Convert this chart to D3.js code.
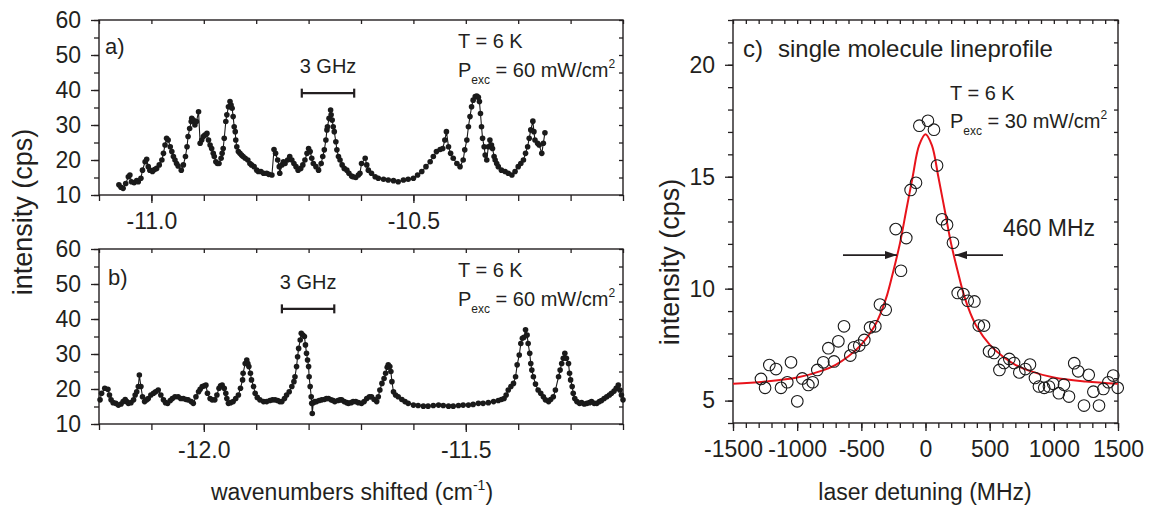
<!DOCTYPE html>
<html><head><meta charset="utf-8">
<script src="https://cdn.jsdelivr.net/npm/d3@7"></script>
<style>
html,body{margin:0;padding:0;background:#fff;}
svg text{font-family:"Liberation Sans",Arial,Helvetica,sans-serif;fill:#231f20;}
</style></head>
<body><svg id="chart" width="1153" height="508"></svg>
<script>
// ---------- DATA ----------
// a) spectrum
const aX = [-11.062,-11.058,-11.054,-11.049,-11.044,-11.041,-11.038,-11.033,-11.028,-11.025,
-11.020,-11.017,-11.012,-11.009,-11.006,-11.003,-10.998,-10.994,-10.990,-10.985,
-10.980,-10.977,-10.974,-10.971,-10.968,-10.964,-10.961,-10.958,-10.955,-10.952,
-10.949,-10.943,-10.939,-10.935,-10.932,-10.930,-10.927,-10.924,-10.923,-10.920,
-10.917,-10.914,-10.910,-10.907,-10.904,-10.901,-10.898,-10.894,-10.891,-10.888,
-10.885,-10.882,-10.880,-10.877,-10.874,-10.871,-10.867,-10.865,-10.863,-10.861,
-10.858,-10.856,-10.853,-10.850,-10.848,-10.846,-10.844,-10.842,-10.840,-10.839,
-10.837,-10.834,-10.831,-10.828,-10.825,-10.821,-10.816,-10.812,-10.809,-10.804,
-10.799,-10.796,-10.791,-10.786,-10.780,-10.776,-10.770,-10.766,-10.763,-10.759,
-10.756,-10.755,-10.751,-10.748,-10.745,-10.740,-10.736,-10.732,-10.728,-10.724,
-10.720,-10.715,-10.711,-10.707,-10.703,-10.700,-10.697,-10.694,-10.691,-10.686,
-10.681,-10.676,-10.673,-10.670,-10.667,-10.665,-10.664,-10.661,-10.658,-10.657,
-10.655,-10.653,-10.651,-10.648,-10.646,-10.643,-10.640,-10.636,-10.632,-10.627,
-10.623,-10.618,-10.615,-10.610,-10.605,-10.602,
-10.599,-10.592,-10.589,-10.586,-10.580,-10.573,-10.567,-10.557,-10.548,-10.538,
-10.529,-10.519,-10.510,-10.500,-10.492,-10.484,-10.476,-10.468,-10.462,-10.456,
-10.449,-10.444,-10.440,-10.437,-10.433,-10.429,-10.424,-10.417,-10.411,-10.405,
-10.402,-10.398,-10.395,-10.392,-10.389,-10.386,-10.382,-10.379,-10.376,-10.374,
-10.372,-10.370,-10.368,-10.365,-10.363,-10.360,-10.357,-10.354,-10.351,-10.349,
-10.346,-10.344,-10.341,-10.338,-10.332,-10.325,-10.319,-10.312,-10.306,-10.300,
-10.295,-10.290,-10.286,-10.282,-10.279,-10.276,-10.272,-10.270,-10.268,-10.263,
-10.260,-10.255,-10.252,-10.249];
const aY = [12.9,12.2,11.9,13.3,15.2,15.7,13.8,13.5,14.1,13.8,
14.8,17.1,19.5,20.2,18.1,17.1,16.7,17.3,17.6,18.6,
20.0,21.9,24.3,26.2,25.7,23.8,22.4,21.0,20.0,19.0,
18.3,17.1,18.6,21.0,23.8,26.7,29.0,31.0,31.9,31.4,
30.0,31.0,33.8,24.8,25.7,26.7,27.1,27.6,25.7,24.3,
23.3,21.9,21.0,19.5,19.0,19.0,20.5,21.9,23.3,26.2,
31.0,32.9,35.2,36.7,35.7,34.8,32.4,29.5,28.1,25.7,
23.8,22.4,21.9,21.4,21.0,20.5,20.0,19.0,18.6,18.1,
17.1,16.7,16.7,16.2,16.2,15.9,15.7,23.0,21.9,20.0,
18.1,16.2,18.6,19.5,19.0,20.0,21.0,20.0,19.0,18.1,
17.1,17.6,18.6,20.0,21.9,23.3,22.4,20.5,19.0,18.1,
17.1,19.0,21.0,22.9,25.7,28.6,29.5,31.9,34.3,32.9,
31.4,29.5,28.1,25.2,22.9,21.0,20.0,18.6,17.6,17.1,
16.2,15.4,15.2,15.0,15.7,16.2,
19.0,20.5,18.6,17.1,16.2,15.2,14.8,14.5,14.3,14.1,
13.8,14.3,14.5,14.8,15.7,16.7,18.1,19.5,21.0,22.4,
23.0,23.3,25.7,28.1,23.8,21.9,20.5,19.0,18.1,20.0,
22.9,25.7,29.5,32.4,35.2,37.1,38.1,38.3,37.9,36.7,
33.3,29.5,26.2,23.8,21.4,20.0,23.8,25.7,24.3,23.3,
21.0,20.0,19.0,18.1,17.1,16.7,16.2,15.7,16.7,18.1,
19.0,20.0,21.9,23.8,26.2,28.6,31.1,28.1,25.7,24.8,
24.3,21.9,24.8,27.8];

// b) spectrum
const bX = [-12.198,-12.195,-12.189,-12.183,-12.180,-12.177,-12.173,-12.168,-12.163,-12.158,
-12.154,-12.150,-12.147,-12.144,-12.139,-12.134,-12.131,-12.128,-12.125,-12.123,
-12.120,-12.117,-12.113,-12.109,-12.106,-12.101,-12.096,-12.092,-12.087,-12.082,
-12.077,-12.073,-12.069,-12.064,-12.060,-12.055,-12.049,-12.044,-12.039,-12.034,
-12.030,-12.024,-12.020,-12.015,-12.010,-12.007,-12.003,-11.999,-11.996,-11.993,
-11.988,-11.984,-11.979,-11.975,-11.971,-11.968,-11.965,-11.961,-11.958,-11.956,
-11.953,-11.949,-11.944,-11.939,-11.934,-11.930,-11.926,-11.925,-11.921,-11.918,
-11.916,-11.914,-11.911,-11.909,-11.905,-11.902,-11.898,-11.893,-11.886,-11.880,
-11.874,-11.869,-11.864,-11.859,-11.855,-11.851,-11.846,-11.842,-11.837,-11.832,
-11.828,-11.826,-11.823,-11.821,-11.819,-11.816,-11.814,-11.811,-11.808,-11.806,
-11.804,-11.802,-11.800,-11.799,-11.797,-11.795,-11.794,-11.793,-11.791,-11.788,
-11.785,-11.780,-11.775,-11.770,-11.766,-11.762,-11.757,-11.753,-11.750,-11.744,
-11.740,-11.737,-11.732,-11.727,-11.724,-11.719,-11.715,-11.710,-11.705,-11.699,
-11.694,-11.689,-11.684,-11.680,-11.675,-11.670,-11.667,-11.664,-11.660,-11.656,
-11.653,-11.650,-11.648,-11.645,-11.643,-11.641,-11.638,-11.634,-11.629,-11.622,
-11.616,-11.610,-11.600,-11.591,-11.581,-11.572,-11.562,-11.552,-11.543,-11.533,
-11.524,-11.514,-11.505,-11.495,-11.486,-11.476,-11.467,-11.457,-11.447,-11.438,
-11.432,-11.427,-11.423,-11.419,-11.414,-11.409,-11.405,-11.402,-11.398,-11.395,
-11.392,-11.389,-11.386,-11.383,-11.381,-11.378,-11.376,-11.374,-11.371,-11.367,
-11.362,-11.357,-11.352,-11.348,-11.342,-11.338,-11.333,-11.329,-11.323,-11.320,
-11.317,-11.314,-11.311,-11.308,-11.304,-11.302,-11.300,-11.297,-11.295,-11.292,
-11.288,-11.283,-11.279,-11.274,-11.269,-11.264,-11.260,-11.255,-11.250,-11.245,
-11.241,-11.236,-11.231,-11.226,-11.222,-11.217,-11.213,-11.209,-11.206,-11.203,
-11.200];
const bY = [16.9,18.8,20.2,19.9,18.3,16.9,16.1,15.9,15.4,15.7,
16.4,17.0,16.4,15.9,16.1,16.9,18.3,19.2,20.7,24.0,
20.7,17.8,16.4,16.9,17.3,18.3,18.8,19.2,19.7,18.3,
16.9,16.1,15.9,16.7,17.3,17.8,17.8,17.3,17.3,17.0,
16.9,16.4,15.9,17.8,19.2,19.9,20.7,20.9,21.1,18.8,
17.3,16.9,16.9,18.3,20.2,20.9,21.1,20.2,18.8,17.3,
15.9,16.1,16.4,17.3,18.3,20.2,22.6,24.5,27.3,28.3,
27.3,26.4,24.5,22.6,20.7,18.8,17.6,16.9,16.4,16.4,
16.7,16.9,16.9,16.7,16.4,16.4,17.3,18.3,19.2,20.7,
22.1,23.5,26.4,29.2,31.6,34.0,35.9,35.4,35.0,32.6,
30.2,28.3,26.4,23.5,20.7,17.8,15.9,13.0,16.1,16.4,
16.4,16.7,16.9,17.0,17.3,17.3,16.9,16.7,16.4,16.7,
16.9,16.9,16.4,16.1,15.9,16.1,16.4,16.4,16.1,15.9,
16.4,17.3,17.8,17.8,17.0,16.4,17.8,19.7,21.6,23.0,
24.5,26.2,26.9,26.4,25.0,22.1,19.2,18.3,17.8,17.0,
16.4,15.9,15.4,15.3,15.1,15.1,15.3,15.4,15.3,15.1,
15.1,15.3,15.4,15.4,15.6,15.9,15.9,16.1,16.4,16.7,
17.0,17.3,18.3,19.7,20.7,21.6,23.5,26.9,29.7,33.0,
34.5,34.8,36.9,35.4,33.0,30.2,27.3,25.4,23.5,21.4,
19.7,18.8,17.8,16.9,16.4,17.0,17.8,19.7,23.5,25.4,
27.3,28.8,30.2,28.8,27.3,24.5,22.6,20.7,18.8,17.3,
16.4,15.9,16.1,15.7,15.9,16.1,16.4,15.9,15.9,16.4,
16.7,17.3,17.8,18.3,18.8,19.4,20.2,21.1,19.7,18.3,
16.9];

// c) single molecule line profile (open circles)
const cX = [-1282,-1250,-1217,-1165,-1126,-1077,-1048,-999,-960,-913,-879,-843,-796,-757,-713,-679,-635,-586,-557,-516,-477,-432,-391,-355,-310,-232,-191,-150,-116,-74,-48,19,66,90,129,168,214,251,295,329,381,415,456,495,534,576,612,653,690,731,778,814,853,884,925,962,995,1039,1079,1118,1159,1190,1235,1272,1308,1352,1386,1425,1463,1498];
const cY = [5.97,5.57,6.59,6.41,5.57,5.82,6.71,4.97,5.99,5.70,5.82,6.37,6.71,7.34,6.75,7.65,8.32,7.01,7.38,7.46,7.71,8.27,8.32,9.29,9.06,12.66,10.80,12.26,14.41,14.73,17.28,17.5,17.1,15.5,13.1,12.85,12.05,9.81,9.76,9.46,9.43,8.35,8.35,7.20,7.13,6.37,6.68,6.86,6.68,6.26,6.41,6.61,6.01,5.63,5.57,5.63,5.75,5.33,5.71,5.18,6.67,6.31,4.78,6.15,5.40,4.78,5.52,5.82,6.12,5.57];

// red line-profile fit
const fitX = [-1500,-1250,-1000,-800,-700,-600,-500,-400,-350,-300,-250,-200,-150,-100,-50,0,50,100,150,200,250,300,350,400,500,600,700,800,1000,1250,1500];
const fitY = [5.75,5.85,6.03,6.35,6.6,6.98,7.5,8.3,8.9,9.7,10.8,12.0,13.5,15.0,16.4,16.9,16.4,15.0,13.5,12.0,10.8,9.7,8.9,8.3,7.5,6.98,6.6,6.35,6.03,5.85,5.75];

// tick labels
const abYLabels = [10,20,30,40,50,60];
const aXLabels = [-11.0,-10.5];
const bXLabels = [-12.0,-11.5];
const cXLabels = [-1500,-1000,-500,0,500,1000,1500];
const cYLabels = [5,10,15,20];

// ---------- DRAW ----------
const svg = d3.select('#chart');
svg.append('rect').attr('width',1153).attr('height',508).attr('fill','#fff');
const INK = '#231f20';
const FS = 23;

function frame(g, x, y, o){
  const [x0,x1] = x.range(), [y0,y1] = y.range();
  const bot = g.append('g').attr('transform',`translate(0,${y0})`)
    .call(d3.axisBottom(x).tickValues(o.xMinor).tickSizeInner(o.xMinorLen).tickSizeOuter(0).tickFormat(''));
  const botM = g.append('g').attr('transform',`translate(0,${y0})`)
    .call(d3.axisBottom(x).tickValues(o.xLabels).tickSizeInner(8).tickSizeOuter(0).tickPadding(10).tickFormat(o.xFmt));
  const top = g.append('g').attr('transform',`translate(0,${y1})`)
    .call(d3.axisTop(x).tickValues(o.xMinor).tickSizeInner(-4).tickSizeOuter(0).tickFormat(''));
  const lef = g.append('g').attr('transform',`translate(${x0},0)`)
    .call(d3.axisLeft(y).tickValues(o.yMinor).tickSizeInner(5).tickSizeOuter(0).tickFormat(''));
  const lefM = g.append('g').attr('transform',`translate(${x0},0)`)
    .call(d3.axisLeft(y).tickValues(o.yLabels).tickSizeInner(8).tickSizeOuter(0).tickPadding(10).tickFormat(d=>String(d)));
  const rig = g.append('g').attr('transform',`translate(${x1},0)`)
    .call(d3.axisRight(y).tickValues(o.yMinor).tickSizeInner(-4).tickSizeOuter(0).tickFormat(''));
  [bot,botM,top,lef,lefM,rig].forEach(a=>{
    a.select('.domain').remove();
    a.selectAll('line').attr('stroke',INK).attr('stroke-width',1.3);
    a.selectAll('text').attr('font-size',FS).attr('fill',INK)
      .style('font-family','"Liberation Sans",Arial,sans-serif');
  });
  g.append('rect').attr('x',x0).attr('y',y1).attr('width',x1-x0).attr('height',y0-y1)
    .attr('fill','none').attr('stroke',INK).attr('stroke-width',1.4);
}

// hyphen-minus labels as in the original
const fmt1 = d => (d<0?'-':'')+Math.abs(d).toFixed(1);
const fmt0 = d => (d<0?'-':'')+Math.abs(d).toFixed(0);

function spectrum(g, x, y, xs, ys){
  const pts = xs.map((v,i)=>[v, ys[i]]);
  g.append('path').datum(pts)
    .attr('d', d3.line().x(d=>x(d[0])).y(d=>y(d[1])))
    .attr('fill','none').attr('stroke','#1a1a1a').attr('stroke-width',1.1);
  g.selectAll('circle.pt').data(pts).join('circle').attr('class','pt')
    .attr('cx',d=>x(d[0])).attr('cy',d=>y(d[1])).attr('r',2.8).attr('fill','#1a1a1a');
}

function scaleBar(g, x, y, xa, xb, yBar, yText){
  const x1 = x(xa), x2 = x(xb), yb = y(yBar);
  g.append('line').attr('x1',x1).attr('x2',x2).attr('y1',yb).attr('y2',yb).attr('stroke',INK).attr('stroke-width',2.2);
  [x1,x2].forEach(xx=>g.append('line').attr('x1',xx).attr('x2',xx).attr('y1',yb-4.5).attr('y2',yb+4.5).attr('stroke',INK).attr('stroke-width',2.2));
  g.append('text').attr('x',(x1+x2)/2).attr('y',y(yText)).attr('text-anchor','middle').attr('font-size',20).text('3 GHz');
}

function conditions(g, xPix, yT, yP, power){
  g.append('text').attr('x',xPix).attr('y',yT).attr('font-size',20).text('T = 6 K');
  const t = g.append('text').attr('x',xPix).attr('y',yP).attr('font-size',20);
  t.append('tspan').text('P');
  t.append('tspan').attr('font-size',12).attr('dy',7).text('exc');
  t.append('tspan').attr('dy',-7).text(` = ${power} mW/cm`);
  t.append('tspan').attr('font-size',12).attr('dy',-9).text('2');
}

const steps = (a,b,step)=>d3.range(0, Math.round((b-a)/step)+1).map(i=>+(a+i*step).toFixed(4));

// Panel a
const xa = d3.scaleLinear().domain([-11.1,-10.1]).range([99,623]);
const ya = d3.scaleLinear().domain([10,60]).range([195,20]);
const ga = svg.append('g');
frame(ga, xa, ya, {xMinor: steps(-11.1,-10.1,0.1), xMinorLen:6, xLabels:aXLabels, xFmt:fmt1, yMinor: steps(10,60,5), yLabels: abYLabels});
spectrum(ga, xa, ya, aX, aY);
ga.append('text').attr('x',105).attr('y',54).attr('font-size',22).text('a)');
scaleBar(ga, xa, ya, -10.713, -10.613, 39.1, 44.9);
conditions(ga, 458, 48, 77, 60);

// Panel b
const xb = d3.scaleLinear().domain([-12.2,-11.2]).range([99,623]);
const yb = d3.scaleLinear().domain([10,60]).range([424,249]);
const gb = svg.append('g');
frame(gb, xb, yb, {xMinor: steps(-12.2,-11.2,0.1), xMinorLen:6, xLabels:bXLabels, xFmt:fmt1, yMinor: steps(10,60,5), yLabels: abYLabels});
spectrum(gb, xb, yb, bX, bY);
gb.append('text').attr('x',108).attr('y',285).attr('font-size',22).text('b)');
scaleBar(gb, xb, yb, -11.851, -11.751, 42.9, 48.6);
conditions(gb, 458, 277, 306, 60);

// Shared titles for a,b
svg.append('text').attr('transform','translate(32,212) rotate(-90)').attr('text-anchor','middle').attr('font-size',27).text('intensity (cps)');
const xt = svg.append('text').attr('x',352).attr('y',500).attr('text-anchor','middle').attr('font-size',FS);
xt.append('tspan').text('wavenumbers shifted (cm');
xt.append('tspan').attr('font-size',14).attr('dy',-10).text('-1');
xt.append('tspan').attr('dy',10).text(')');

// Panel c
const xc = d3.scaleLinear().domain([-1500,1500]).range([733,1118]);
const yc = d3.scaleLinear().domain([4,22]).range([423,20]);
const gc = svg.append('g');
frame(gc, xc, yc, {xMinor: steps(-1500,1500,100), xMinorLen:5, xLabels:cXLabels, xFmt:fmt0, yMinor: steps(4,22,1), yLabels: cYLabels});
gc.append('path').datum(fitX.map((v,i)=>[v,fitY[i]]))
  .attr('d', d3.line().x(d=>xc(d[0])).y(d=>yc(d[1])).curve(d3.curveCatmullRom))
  .attr('fill','none').attr('stroke','#e8131b').attr('stroke-width',2);
gc.selectAll('circle.o').data(cX.map((v,i)=>[v,cY[i]])).join('circle').attr('class','o')
  .attr('cx',d=>xc(d[0])).attr('cy',d=>yc(d[1])).attr('r',5.8)
  .attr('fill','none').attr('stroke','#1a1a1a').attr('stroke-width',1.1);
const defs = svg.append('defs');
defs.append('marker').attr('id','ah').attr('viewBox','0 0 12 8').attr('refX',12).attr('refY',4)
  .attr('markerWidth',12).attr('markerHeight',8).attr('markerUnits','userSpaceOnUse').attr('orient','auto')
  .append('path').attr('d','M0,0 L12,4 L0,8 Z').attr('fill',INK);
const yArr = yc(11.5);
gc.append('line').attr('x1',xc(-643)).attr('x2',xc(-222)).attr('y1',yArr).attr('y2',yArr)
  .attr('stroke',INK).attr('stroke-width',1.6).attr('marker-end','url(#ah)');
gc.append('line').attr('x1',xc(604)).attr('x2',xc(230)).attr('y1',yArr).attr('y2',yArr)
  .attr('stroke',INK).attr('stroke-width',1.6).attr('marker-end','url(#ah)');
gc.append('text').attr('x',1003).attr('y',236).attr('font-size',FS).text('460 MHz');
gc.append('text').attr('x',743).attr('y',57).attr('font-size',24).text('c)');
gc.append('text').attr('x',778).attr('y',57).attr('font-size',24).text('single molecule lineprofile');
conditions(gc, 950, 100, 128, 30);
svg.append('text').attr('transform','translate(679,262) rotate(-90)').attr('text-anchor','middle').attr('font-size',27).text('intensity (cps)');
svg.append('text').attr('x',925).attr('y',500).attr('text-anchor','middle').attr('font-size',FS).text('laser detuning (MHz)');
</script></body></html>
